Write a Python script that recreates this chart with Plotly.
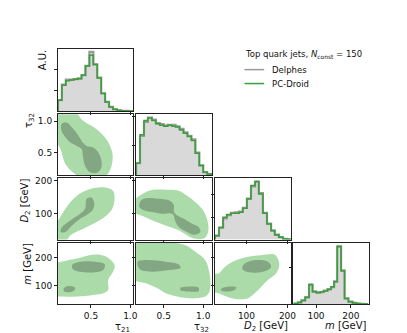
import plotly.graph_objects as go

# ---------------- data ----------------
# histogram bin edges and heights (arbitrary units)
TAU21_EDGES = [0.08, 0.13, 0.18, 0.23, 0.28, 0.33, 0.38, 0.43, 0.48, 0.53,
               0.58, 0.63, 0.68, 0.73, 0.78, 0.83, 0.88, 0.93, 0.98, 1.03]
TAU21_DELPHES = [0.54, 1.28, 1.52, 1.52, 1.55, 1.58, 1.74, 2.19, 2.85, 2.24,
                 1.62, 0.87, 0.46, 0.22, 0.10, 0.05, 0.03, 0.02, 0.01]
TAU21_PCDROID = [0.54, 1.25, 1.47, 1.50, 1.54, 1.57, 1.73, 2.18, 2.69, 2.26,
                 1.60, 0.86, 0.45, 0.21, 0.10, 0.05, 0.03, 0.02, 0.01]

TAU32_EDGES = [0.15, 0.20, 0.25, 0.30, 0.35, 0.40, 0.45, 0.50, 0.55, 0.60,
               0.65, 0.70, 0.75, 0.80, 0.85, 0.90, 0.95, 1.00, 1.05, 1.10]
TAU32_DELPHES = [0.40, 1.33, 1.80, 1.95, 1.88, 1.76, 1.73, 1.68, 1.70, 1.70,
                 1.65, 1.57, 1.45, 1.33, 1.21, 0.76, 0.33, 0.10, 0.03]
TAU32_PCDROID = [0.41, 1.37, 1.85, 1.94, 1.85, 1.74, 1.69, 1.66, 1.69, 1.66,
                 1.63, 1.53, 1.42, 1.31, 1.17, 0.74, 0.32, 0.09, 0.03]

D2_EDGES = [23, 33, 43, 52, 62, 72, 82, 91, 101, 111,
            121, 130, 140, 150, 160, 169, 179, 189, 199, 208]
D2_DELPHES = [0.17, 0.52, 0.95, 1.10, 1.20, 1.22, 1.25, 1.42, 1.84, 2.38,
              2.58, 2.08, 1.20, 0.72, 0.41, 0.22, 0.11, 0.03, 0.015]
D2_PCDROID = [0.18, 0.55, 1.00, 1.12, 1.18, 1.18, 1.22, 1.40, 1.82, 2.42,
              2.61, 2.04, 1.18, 0.70, 0.40, 0.21, 0.10, 0.03, 0.015]

MASS_EDGES = [38, 48, 58, 69, 80, 90, 101, 112, 122, 133, 143,
              152, 161, 172, 182, 193, 205, 216, 226, 237, 247]
MASS_DELPHES = [0.02, 0.05, 0.10, 0.19, 0.52, 0.35, 0.32, 0.33, 0.37, 0.41,
                0.46, 0.62, 1.55, 0.92, 0.16, 0.07, 0.035, 0.02, 0.01, 0.005]
MASS_PCDROID = [0.02, 0.045, 0.11, 0.18, 0.54, 0.34, 0.31, 0.34, 0.36, 0.40,
                0.47, 0.61, 1.58, 0.90, 0.155, 0.064, 0.036, 0.018, 0.009, 0.005]

# contour outlines (outer = wide level, inner = core level)
T32_T21_OUTER_X = [0.02, 0.28, 0.405, 0.571, 0.696, 0.771, 0.771, 0.738, 0.655, 0.405, 0.28, 0.175, 0.113, 0.02]
T32_T21_OUTER_Y = [1.16, 1.16, 1.004, 0.874, 0.716, 0.507, 0.349, 0.217, 0.10, 0.10, 0.181, 0.323, 0.559, 0.77]
T32_T21_INNER_X = [0.134, 0.196, 0.259, 0.343, 0.396, 0.446, 0.53, 0.593, 0.634, 0.625,
                   0.571, 0.488, 0.425, 0.396, 0.384, 0.321, 0.238, 0.163, 0.121]
T32_T21_INNER_Y = [0.968, 0.979, 0.901, 0.768, 0.664, 0.611, 0.586, 0.507, 0.375, 0.244,
                   0.181, 0.192, 0.296, 0.453, 0.559, 0.611, 0.664, 0.768, 0.874]

D2_T21_OUTER_X = [0.02, 0.16, 0.238, 0.405, 0.571, 0.696, 0.771, 0.80, 0.78, 0.655, 0.488, 0.321, 0.175, 0.02]
D2_T21_OUTER_Y = [10, 10, 35.8, 55.8, 75.8, 95.5, 115.5, 145.4, 170, 180, 175, 155, 115.5, 45]
D2_T21_INNER_X = [0.113, 0.134, 0.238, 0.363, 0.425, 0.446, 0.509, 0.538, 0.53, 0.468, 0.363, 0.259, 0.175]
D2_T21_INNER_Y = [46, 61, 80.6, 100.6, 115.5, 145.4, 148.4, 135.5, 115.5, 100.6, 85.7, 65.7, 46]

D2_T32_OUTER_X = [0.10, 0.234, 0.359, 0.525, 0.691, 0.796, 0.879, 0.984, 1.046, 1.066,
                  1.046, 1.004, 0.859, 0.691, 0.525, 0.359, 0.234, 0.10]
D2_T32_OUTER_Y = [133, 160.3, 172.3, 173, 170, 155, 140, 115.5, 85.7, 55.8,
                  35.8, 26, 28, 50.8, 65.7, 80.6, 93.7, 108]
D2_T32_INNER_X = [0.212, 0.275, 0.441, 0.588, 0.629, 0.629, 0.671, 0.754, 0.859, 0.941,
                  0.963, 0.879, 0.796, 0.691, 0.65, 0.609, 0.484, 0.359, 0.254, 0.191]
D2_T32_INNER_Y = [140.3, 147.5, 145.4, 138.5, 125.4, 105.7, 95.5, 85.7, 70.8, 60.9,
                  46, 37.9, 46, 60.9, 75.8, 100.6, 100.6, 105.7, 110.5, 120.6]

M_T21_OUTER_X = [0.02, 0.155, 0.321, 0.55, 0.696, 0.80, 0.78, 0.718, 0.718, 0.655, 0.53, 0.321, 0.155, 0.02]
M_T21_OUTER_Y = [172, 187, 196.5, 210.7, 202.5, 172.9, 149.5, 119.9, 84.5, 72.9, 66.9, 61.2, 61.2, 67]
M_T21_CORE1_X = [0.259, 0.363, 0.55, 0.675, 0.655, 0.53, 0.363, 0.271]
M_T21_CORE1_Y = [172.9, 184.9, 184.9, 175.3, 155.2, 147.1, 149.5, 158.7]
M_T21_CORE2_X = [0.155, 0.218, 0.30, 0.28, 0.196, 0.155]
M_T21_CORE2_Y = [90.5, 98.7, 93, 81, 76.4, 81]

M_T32_OUTER_X = [0.10, 0.316, 0.609, 0.775, 0.90, 1.025, 1.075, 1.088, 1.046, 0.90,
                 0.734, 0.525, 0.421, 0.275, 0.10]
M_T32_OUTER_Y = [243, 252, 252, 243.5, 220.2, 190.5, 149.5, 90.5, 64.7, 55.2,
                 57.7, 72.9, 90.5, 108.2, 126]
M_T32_CORE1_X = [0.171, 0.275, 0.525, 0.691, 0.713, 0.566, 0.359, 0.213, 0.171]
M_T32_CORE1_Y = [184.9, 190.7, 184.9, 175.3, 163.7, 155.2, 149.5, 155.2, 170.7]
M_T32_CORE2_X = [0.713, 0.796, 0.941, 0.941, 0.816, 0.713]
M_T32_CORE2_Y = [93, 96.5, 93, 81, 78.9, 83.5]

M_D2_OUTER_X = [15, 31.9, 47.8, 71.8, 104, 136, 168, 176.1, 180, 172, 152.1, 136,
                119.9, 104, 80, 55.9, 31.9, 15]
M_D2_OUTER_Y = [140, 143.5, 167.2, 188.4, 202.5, 208.2, 210.7, 196.5, 172.9, 143.5, 119.9, 96.5,
                72.9, 55.2, 51.7, 58.7, 72.9, 80]
M_D2_CORE1_X = [92, 104, 128.1, 152.1, 160, 148, 119.9, 95.8, 89.6]
M_D2_CORE1_Y = [172.9, 184.9, 190.7, 184.9, 167.2, 153, 146, 151.7, 161.2]
M_D2_CORE2_X = [39.8, 55.9, 75.2, 71.1, 51.1, 38.1]
M_D2_CORE2_Y = [90.5, 96.5, 94, 84.5, 78.9, 82.4]

# axis settings per variable
RANGES = [[0.08, 1.04], [0.15, 1.11], [23, 208], [34, 253]]
TICKVALS = [[0.5, 1.0], [0.5, 1.0], [100, 200], [100, 200]]
TICKTEXT = [["0.5", "1.0"], ["0.5", "1.0"], ["100", "200"], ["100", "200"]]
XLABELS = ["τ<sub>21</sub>", "τ<sub>32</sub>", "<i>D</i><sub>2</sub> [GeV]", "<i>m</i> [GeV]"]
YLABELS = ["A.U.", "τ<sub>32</sub>", "<i>D</i><sub>2</sub> [GeV]", "<i>m</i> [GeV]"]
HIST_TOP = [2.98, 2.06, 2.76, 1.67]
HIST_TICKS = [[1, 2], [1, 2], [1, 2], [1]]
LEGEND_TITLE = "Top quark jets, <i>N</i><sub>const</sub> = 150"
LEGEND_NAMES = ["Delphes", "PC-Droid"]

HISTS = [
    (TAU21_EDGES, TAU21_DELPHES, TAU21_PCDROID),
    (TAU32_EDGES, TAU32_DELPHES, TAU32_PCDROID),
    (D2_EDGES, D2_DELPHES, D2_PCDROID),
    (MASS_EDGES, MASS_DELPHES, MASS_PCDROID),
]
CONTOURS = {
    (1, 0): [(T32_T21_OUTER_X, T32_T21_OUTER_Y)],
    (2, 0): [(D2_T21_OUTER_X, D2_T21_OUTER_Y)],
    (2, 1): [(D2_T32_OUTER_X, D2_T32_OUTER_Y)],
    (3, 0): [(M_T21_OUTER_X, M_T21_OUTER_Y)],
    (3, 1): [(M_T32_OUTER_X, M_T32_OUTER_Y)],
    (3, 2): [(M_D2_OUTER_X, M_D2_OUTER_Y)],
}
CORES = {
    (1, 0): [(T32_T21_INNER_X, T32_T21_INNER_Y)],
    (2, 0): [(D2_T21_INNER_X, D2_T21_INNER_Y)],
    (2, 1): [(D2_T32_INNER_X, D2_T32_INNER_Y)],
    (3, 0): [(M_T21_CORE1_X, M_T21_CORE1_Y), (M_T21_CORE2_X, M_T21_CORE2_Y)],
    (3, 1): [(M_T32_CORE1_X, M_T32_CORE1_Y), (M_T32_CORE2_X, M_T32_CORE2_Y)],
    (3, 2): [(M_D2_CORE1_X, M_D2_CORE1_Y), (M_D2_CORE2_X, M_D2_CORE2_Y)],
}

# ---------------- layout ----------------
W, H = 407, 333
COLS = [(50.7, 127.3), (130, 207), (210, 287), (289.3, 366.7)]
ROWS = [(39.5, 102), (105, 166), (169, 231), (234, 296)]

GRAY_FILL = "#d9d9d9"
GRAY_LINE = "#9a9a9a"
GREEN = "#3a9e3a"
OUTER_COL = "rgb(170,219,168)"
INNER_COL = "rgb(131,166,131)"
FONT = "DejaVu Sans"


def step_xy(edges, heights):
    xs = [edges[0]] + list(edges[:-1]) + [edges[-1]]
    ys = [0] + list(heights) + [0]
    return xs, ys


def closed_fill(xs, ys, color, xa, ya):
    return go.Scatter(x=xs + [xs[0]], y=ys + [ys[0]], mode="lines",
                      fill="toself", fillcolor=color,
                      line=dict(width=0, shape="spline", smoothing=1),
                      showlegend=False, hoverinfo="skip", xaxis=xa, yaxis=ya)


fig = go.Figure()
layout = {}
n = 0
for r in range(4):
    for c in range(r + 1):
        n += 1
        sfx = "" if n == 1 else str(n)
        xa, ya = "x" + sfx, "y" + sfx
        if r == c:
            edges, delph, pcd = HISTS[r]
            xs, ys = step_xy(edges, delph)
            fig.add_trace(go.Scatter(x=xs, y=ys, mode="lines", line_shape="hv",
                                     fill="tozeroy", fillcolor=GRAY_FILL,
                                     line=dict(color=GRAY_LINE, width=2.2),
                                     showlegend=False, hoverinfo="skip",
                                     xaxis=xa, yaxis=ya))
            xs, ys = step_xy(edges, pcd)
            fig.add_trace(go.Scatter(x=xs, y=ys, mode="lines", line_shape="hv",
                                     line=dict(color=GREEN, width=1.5),
                                     showlegend=False, hoverinfo="skip",
                                     xaxis=xa, yaxis=ya))
            yrange = [0, HIST_TOP[r]]
            yticks = dict(tickvals=HIST_TICKS[r], showticklabels=False)
        else:
            for px_, py_ in CONTOURS[(r, c)]:
                fig.add_trace(closed_fill(px_, py_, OUTER_COL, xa, ya))
            for px_, py_ in CORES[(r, c)]:
                fig.add_trace(closed_fill(px_, py_, INNER_COL, xa, ya))
            yrange = RANGES[r]
            yticks = dict(tickvals=TICKVALS[r], ticktext=TICKTEXT[r],
                          showticklabels=(c == 0))
        common = dict(showline=True, mirror=True, linecolor="#222", linewidth=0.9,
                      ticks="outside", ticklen=3, tickwidth=0.8, tickcolor="#222",
                      showgrid=False, zeroline=False, fixedrange=True,
                      tickfont=dict(family=FONT, size=9, color="#111"))
        layout["xaxis" + sfx] = dict(
            common, domain=[COLS[c][0] / W, COLS[c][1] / W], anchor=ya,
            range=RANGES[c], tickvals=TICKVALS[c], ticktext=TICKTEXT[c],
            showticklabels=(r == 3))
        layout["yaxis" + sfx] = dict(
            common, domain=[1 - ROWS[r][1] / H, 1 - ROWS[r][0] / H], anchor=xa,
            range=yrange, **yticks)

ann = []
xlab_pos = [(126, 310.5), (206, 310.5), (286, 310), (366, 310)]
for i, (xp, yp) in enumerate(xlab_pos):
    ann.append(dict(text=XLABELS[i], x=xp / W, y=1 - yp / H, xref="paper", yref="paper",
                    xanchor="right", yanchor="top", showarrow=False,
                    font=dict(family=FONT, size=10, color="#111")))
ylab_pos = [(35, 50), (22, 111), (18, 192), (19.5, 255)]
for i, (xp, yp) in enumerate(ylab_pos):
    ann.append(dict(text=YLABELS[i], x=xp / W, y=1 - yp / H, xref="paper", yref="paper",
                    xanchor="center", yanchor="middle", textangle=-90, showarrow=False,
                    font=dict(family=FONT, size=10, color="#111")))

# legend drawn by hand: title, two line samples and names
ann.append(dict(text=LEGEND_TITLE, x=239 / W, y=1 - 45 / H, xref="paper", yref="paper",
                xanchor="left", yanchor="middle", showarrow=False,
                font=dict(family=FONT, size=8.5, color="#111")))
shapes = []
for i, (name, col) in enumerate(zip(LEGEND_NAMES, [GRAY_LINE, GREEN])):
    yp = 60 + 14 * i
    shapes.append(dict(type="line", xref="paper", yref="paper",
                       x0=240 / W, x1=260 / W, y0=1 - yp / H, y1=1 - yp / H,
                       line=dict(color=col, width=1.5)))
    ann.append(dict(text=name, x=266 / W, y=1 - yp / H, xref="paper", yref="paper",
                    xanchor="left", yanchor="middle", showarrow=False,
                    font=dict(family=FONT, size=8.5, color="#111")))

fig.update_layout(
    width=W, height=H,
    margin=dict(l=0, r=0, t=0, b=0),
    paper_bgcolor="white", plot_bgcolor="white",
    annotations=ann, shapes=shapes,
    showlegend=False,
    **layout,
)

fig.write_html("out.html")
